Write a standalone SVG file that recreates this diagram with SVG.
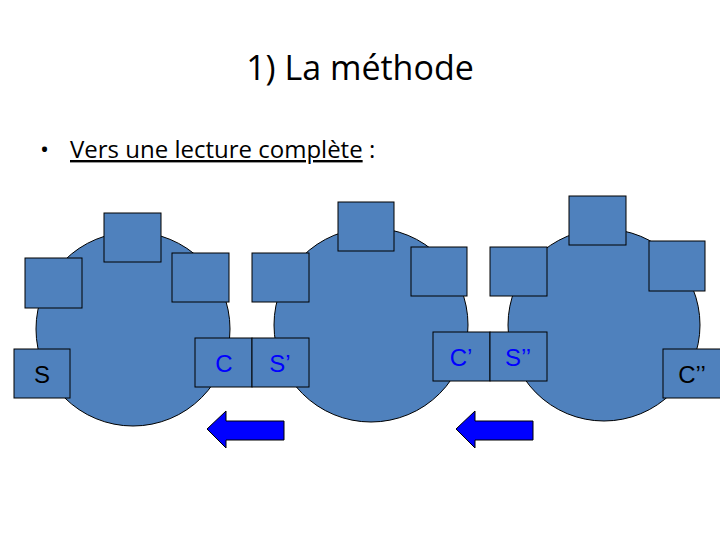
<svg xmlns="http://www.w3.org/2000/svg" width="720" height="540" viewBox="0 0 720 540">
<style>
.c{fill:#4f81bd;stroke:#000;stroke-width:1}
.b{fill:#4f81bd;stroke:#000;stroke-width:1}
.l{font-family:"Liberation Sans",Arial,sans-serif;font-size:24px;text-anchor:middle}
.a{fill:#0000ff;stroke:#000;stroke-width:1}
</style>
<rect width="720" height="540" fill="#fff"/>
<text x="360" y="80" font-family="Open Sans,sans-serif" font-size="34" text-anchor="middle" fill="#000">1) La méthode</text>
<text x="40" y="158" font-family="Open Sans,sans-serif" font-size="24" fill="#000">•</text>
<text x="70" y="158" font-family="Open Sans,sans-serif" font-size="24" fill="#000"><tspan text-decoration="underline">Vers une lecture complète</tspan> :</text>
<g id="circle1"><circle class="c" cx="133" cy="329" r="97"/></g>
<g id="circle2"><circle class="c" cx="371" cy="325" r="97"/></g>
<g id="circle3"><circle class="c" cx="604" cy="325" r="96"/></g>
<g id="b1"><rect class="b" x="104" y="213" width="57" height="49"/></g>
<g id="b2"><rect class="b" x="25" y="258" width="57" height="50"/></g>
<g id="bS"><rect class="b" x="14" y="349" width="56" height="49"/><text class="l" x="42" y="383" fill="#000">S</text></g>
<g id="b3"><rect class="b" x="172" y="253" width="57" height="49"/></g>
<g id="bC"><rect class="b" x="195" y="338" width="57" height="49"/><text class="l" x="224" y="372" fill="#0000ff">C</text></g>
<g id="bS1"><rect class="b" x="252" y="338" width="57" height="49"/><text class="l" x="280" y="372" fill="#0000ff">S’</text></g>
<g id="b4"><rect class="b" x="252" y="253" width="57" height="49"/></g>
<g id="b5"><rect class="b" x="338" y="202" width="56" height="49"/></g>
<g id="b6"><rect class="b" x="411" y="247" width="56" height="49"/></g>
<g id="bC1"><rect class="b" x="433" y="332" width="57" height="49"/><text class="l" x="461" y="366" fill="#0000ff">C’</text></g>
<g id="bS2"><rect class="b" x="490" y="332" width="57" height="49"/><text class="l" x="518" y="366" fill="#0000ff">S’’</text></g>
<g id="b7"><rect class="b" x="490" y="247" width="57" height="49"/></g>
<g id="b8"><rect class="b" x="569" y="196" width="57" height="49"/></g>
<g id="b9"><rect class="b" x="649" y="241" width="56" height="50"/></g>
<g id="bC2"><rect class="b" x="663" y="349" width="60" height="49"/><text class="l" x="692" y="383" fill="#000">C’’</text></g>
<g id="connectors">
<polygon class="a" points="207,429 226,411 226,421 284,421 284,440 226,440 226,448"/>
<polygon class="a" points="456,429 475,411 475,421 533,421 533,440 475,440 475,448"/>
</g>
</svg>
